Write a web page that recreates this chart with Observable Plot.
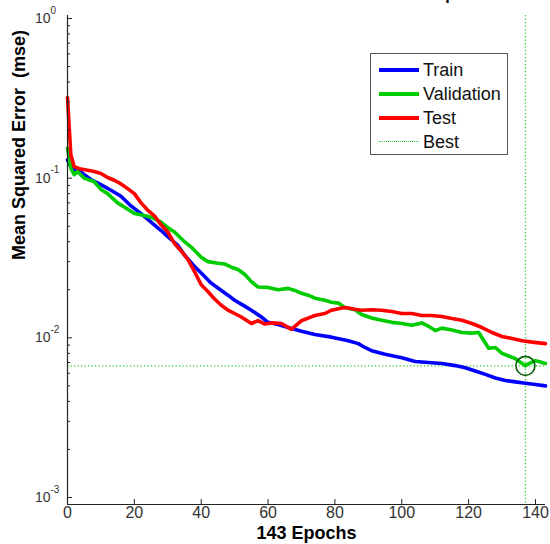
<!DOCTYPE html>
<html>
<head>
<meta charset="utf-8">
<script src="https://cdn.jsdelivr.net/npm/d3@7"></script>
<script src="https://cdn.jsdelivr.net/npm/@observablehq/plot@0.6"></script>
<style>
html, body { margin: 0; padding: 0; background: #fff; }
#wrap { position: relative; width: 550px; height: 544px; overflow: hidden; font-family: "Liberation Sans", Arial, sans-serif; }
.legend { position: absolute; left: 370px; top: 53px; width: 136px; height: 100px; border: 1px solid #555; background: #fff; }
.row { position: absolute; left: 0; height: 24px; width: 136px; }
.sample { position: absolute; left: 8px; width: 40px; top: 10px; height: 4px; }
.dotted { height: 0; border-top: 1.5px dotted #33cc33; top: 11px; }
.lbl { position: absolute; left: 52px; top: 1px; font-size: 18px; color: #111; line-height: 22px; }
</style>
</head>
<body>
<div id="wrap"></div>
<script>
// ---- data ----
const trainEpochs = [0,1,2,4,7,10,13,16,19,22,25,28,30,33,35,38,40,43,45,48,50,53,55,58,60,63,66,70,74,79,84,87,89,91,95,100,104,108,112,116,119,122,125,128,131,134,137,140,143];
const trainMse = [0.13,0.118,0.112,0.109,0.098,0.091,0.084,0.077,0.067,0.060,0.053,0.047,0.043,0.038,0.033,0.028,0.0255,0.022,0.0205,0.0185,0.0172,0.0158,0.0149,0.0135,0.0125,0.0121,0.0116,0.0110,0.0105,0.0101,0.0096,0.0092,0.0087,0.0083,0.0079,0.0075,0.0071,0.0070,0.0069,0.0067,0.0065,0.0062,0.0059,0.0056,0.0054,0.0053,0.0052,0.0051,0.0050];

const valEpochs = [0,1,2,3,5,8,10,12,15,17,20,22,25,28,30,32,35,37,40,42,45,47,49,51,53,55,57,60,63,66,68,70,72,74,77,79,81,83,86,88,91,94,97,100,103,106,108,110,112,115,118,121,123,124,126,128,130,132,134,136,137,138,140,142,143];
const valMse = [0.154,0.115,0.105,0.110,0.100,0.095,0.085,0.080,0.070,0.066,0.060,0.059,0.057,0.053,0.049,0.046,0.040,0.037,0.032,0.030,0.0293,0.0290,0.0277,0.0268,0.025,0.0225,0.0208,0.0207,0.0200,0.0204,0.0198,0.0190,0.0185,0.0177,0.0172,0.0167,0.0165,0.0155,0.0150,0.0140,0.0133,0.0129,0.0125,0.0123,0.0120,0.0124,0.0118,0.0111,0.0115,0.0112,0.0108,0.0107,0.0108,0.0100,0.0086,0.0087,0.0080,0.0077,0.0074,0.0069,0.0066768,0.0069,0.0072,0.0070,0.0069];

const testEpochs = [0,1,2,4,6,8,10,12,14,16,18,20,22,24,26,28,30,32,34,36,38,40,42,44,46,48,50,52,55,57,59,61,64,67,70,72,74,77,79,81,83,86,88,91,94,97,100,103,106,109,112,115,118,121,124,127,130,133,136,139,141,143];
const testMse = [0.32,0.14,0.118,0.114,0.112,0.110,0.107,0.101,0.097,0.092,0.086,0.080,0.070,0.063,0.058,0.051,0.046,0.039,0.035,0.031,0.026,0.0215,0.0195,0.0175,0.016,0.0149,0.0142,0.0135,0.0123,0.0128,0.0122,0.0124,0.0123,0.0113,0.0128,0.0133,0.0138,0.0142,0.0149,0.0152,0.0155,0.0151,0.0149,0.0150,0.0149,0.0146,0.0142,0.0142,0.0138,0.0138,0.0136,0.0132,0.0129,0.0123,0.0116,0.0108,0.0102,0.0099,0.0096,0.0094,0.0093,0.0092];

const bestEpoch = 137;
const bestMse = 0.0066768;
const totalEpochs = 143;

const xTicks = [0,20,40,60,80,100,120,140];
const yMajor = [1, 0.1, 0.01, 0.001];
const yExponents = ["0", "-1", "-2", "-3"];
const yMinor = d3.range(-3, 0).flatMap(k => d3.range(2, 10).map(m => m * Math.pow(10, k)));

const titleText = "Best Validation Performance is 0.0066768 at epoch 137";
const xLabel = "143 Epochs";
const yLabel = "Mean Squared Error\u00a0 (mse)";
const legendItems = ["Train", "Validation", "Test", "Best"];

// ---- build ----
const rows = (ep, v) => ep.map((e, i) => ({epoch: e, mse: v[i]}));
const train = rows(trainEpochs, trainMse);
const validation = rows(valEpochs, valMse);
const test = rows(testEpochs, testMse);

const W = 550, H = 544, mL = 67, mR = 5, mT = 15, mB = 40;
const frameW = W - mL - mR, frameH = H - mT - mB;
const yDomain = [9.04e-4, 1.044];
const axisColor = "#222";
const font = "Liberation Sans, Arial, sans-serif";

const chart = Plot.plot({
  width: W, height: H,
  marginLeft: mL, marginRight: mR, marginTop: mT, marginBottom: mB,
  style: {fontFamily: font, background: "white"},
  x: {domain: [0, totalEpochs], axis: null},
  y: {type: "log", domain: yDomain, axis: null},
  marks: [
    Plot.ruleX([bestEpoch], {stroke: "#33cc33", strokeWidth: 1.3, strokeDasharray: "1.3,2.2"}),
    Plot.ruleY([bestMse], {stroke: "#33cc33", strokeWidth: 1.3, strokeDasharray: "1.3,2.2"}),
    Plot.line(train, {x: "epoch", y: "mse", stroke: "#0000ff", strokeWidth: 3.6}),
    Plot.line(validation, {x: "epoch", y: "mse", stroke: "#00cc00", strokeWidth: 3.6}),
    Plot.line(test, {x: "epoch", y: "mse", stroke: "#ff0000", strokeWidth: 3.6}),
    Plot.dot([{epoch: bestEpoch, mse: bestMse}], {x: "epoch", y: "mse", r: 9.5, stroke: "#0b5e0b", strokeWidth: 1.6, fill: "none"}),
    // axes lines
    Plot.ruleX([0], {stroke: axisColor, strokeWidth: 1.2}),
    Plot.ruleY([yDomain[0]], {stroke: axisColor, strokeWidth: 1.2}),
    // ticks (inward)
    Plot.tickY(yMajor, {y: d => d, insetRight: frameW - 5, stroke: axisColor}),
    Plot.tickY(yMinor, {y: d => d, insetRight: frameW - 3, stroke: axisColor}),
    Plot.tickX(xTicks, {x: d => d, insetTop: frameH - 5, stroke: axisColor}),
    // tick labels
    Plot.text(xTicks, {x: d => d, frameAnchor: "bottom", dy: 13, text: d => String(d), fontSize: 16, fill: "#333"}),
    Plot.text(yMajor, {y: d => d, frameAnchor: "left", dx: -17, textAnchor: "end", text: () => "10", fontSize: 14, fill: "#333"}),
    Plot.text(yMajor, {y: d => d, frameAnchor: "left", dx: -17, dy: -8, textAnchor: "start", text: (d, i) => yExponents[i], fontSize: 10, fill: "#333"}),
    // axis titles
    Plot.text([xLabel], {frameAnchor: "bottom", dy: 34, text: d => d, fontSize: 18, fontWeight: "bold", fill: "#000"}),
    Plot.text([yLabel], {frameAnchor: "left", dx: -48, rotate: -90, text: d => d, fontSize: 18, fontWeight: "bold", fill: "#000"}),
    // title (mostly above the top edge, as in the reference)
    Plot.text([titleText], {frameAnchor: "top", dy: -16, lineAnchor: "bottom", text: d => d, fontSize: 16, fontWeight: "bold", fill: "#000"})
  ]
});

const wrap = document.getElementById("wrap");
wrap.appendChild(chart);

// legend
const legendColors = {"Train": "#0000ff", "Validation": "#00cc00", "Test": "#ff0000"};
const leg = document.createElement("div");
leg.className = "legend";
legendItems.forEach((name, i) => {
  const r = document.createElement("div");
  r.className = "row";
  r.style.top = (4 + i * 24) + "px";
  const s = document.createElement("div");
  if (name === "Best") { s.className = "sample dotted"; }
  else { s.className = "sample"; s.style.background = legendColors[name]; }
  const t = document.createElement("div");
  t.className = "lbl";
  t.textContent = name;
  r.appendChild(s); r.appendChild(t);
  leg.appendChild(r);
});
wrap.appendChild(leg);
</script>
</body>
</html>
